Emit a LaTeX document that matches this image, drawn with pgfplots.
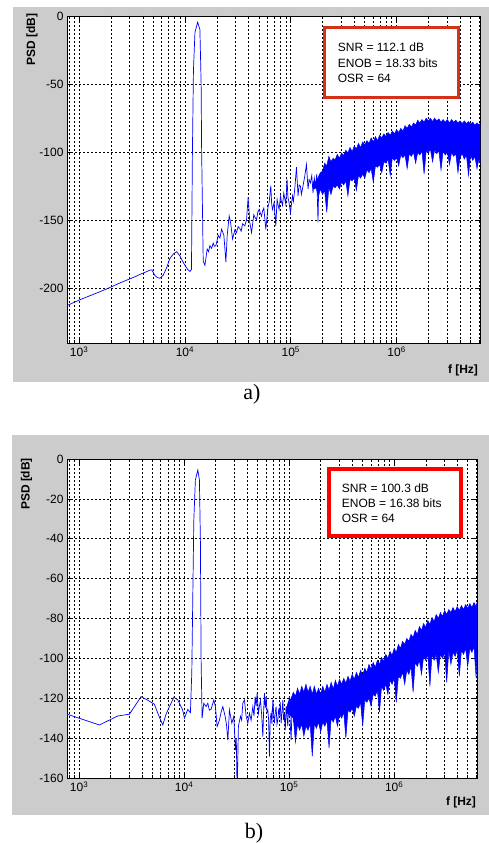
\documentclass[border=0pt]{standalone}
\usepackage{pgfplots}
\pgfplotsset{compat=1.18}
\usepackage{fontspec}
\setmainfont{Liberation Sans}
\newfontfamily\seriffont{Liberation Serif}
\definecolor{figgrey}{RGB}{204,204,204}
\definecolor{boxa}{RGB}{214,48,24}
\definecolor{boxb}{RGB}{255,0,0}
\begin{document}
\begin{tikzpicture}
\path[use as bounding box, fill=white] (0pt,0pt) rectangle (489pt,843pt);
\fill[figgrey] (13pt,461pt) rectangle (489pt,836pt);
\fill[figgrey] (12pt,28pt) rectangle (489pt,408pt);

% ---- a) ----
\begin{axis}[scale only axis, anchor=south west, at={(67pt,500pt)}, width=413pt, height=327pt,
  xmode=log, xmin=768, xmax=6.144e6, ymin=-240, ymax=0,
  xtick={1e3,1e4,1e5,1e6},
  xticklabels={10\textsuperscript{3},10\textsuperscript{4},10\textsuperscript{5},10\textsuperscript{6}},
  minor xtick={800,900,2000,3000,4000,5000,6000,7000,8000,9000,2e4,3e4,4e4,5e4,6e4,7e4,8e4,9e4,2e5,3e5,4e5,5e5,6e5,7e5,8e5,9e5,2e6,3e6,4e6,5e6,6e6},
  ytick={-200,-150,-100,-50,0}, yticklabels={-200,-150,-100,-50,0},
  xmajorgrids, xminorgrids, ymajorgrids,
  major grid style={black, line width=0.6pt, dash pattern=on 2pt off 2pt},
  minor grid style={black, line width=0.6pt, dash pattern=on 2pt off 2pt},
  tick align=inside, major tick length=5pt, minor tick length=3pt,
  every tick/.style={black, line width=0.6pt},
  axis line style={black, line width=0.8pt},
  axis background/.style={fill=white},
  tick label style={font=\fontsize{12}{14}\selectfont}]
\addplot[blue, line width=0.7pt] coordinates {
(768,-212.5) (850,-211) (1000,-208.5) (1200,-206) (1500,-203) (1800,-200.5) (2050,-198.5)
(2500,-195.5) (3000,-193) (3230,-192) (3800,-189.5) (4380,-187.5) (4700,-186.5) (4880,-186.5)
(5200,-190.5) (5500,-192) (5800,-192.5) (6200,-190.5) (6700,-185) (7200,-178) (7800,-174.5)
(8350,-173) (8950,-176) (9500,-180) (9990,-183) (10600,-186) (11150,-187.5) (11520,-186)
(11770,-98) (12030,-40) (12430,-12) (13180,-4.5) (13850,-10) (14220,-50) (14370,-98)
(14880,-180) (15440,-183) (16230,-171) (16700,-173) (17210,-168.6) (17860,-170.5) (18490,-166.7)
(19000,-169) (19610,-168.6) (20620,-161) (21400,-163) (22200,-156.4) (23330,-161) (24370,-180.6)
(25070,-161) (26180,-146.7) (26990,-151.5) (28180,-163.7) (29630,-157) (30700,-159) (31830,-154.6)
(33030,-156) (34000,-158) (35030,-152.5) (36810,-154) (38210,-149.5) (39560,-133) (41050,-151.8)
(42600,-159) (44760,-145.8) (46000,-148) (47470,-149.5) (48800,-144) (50220,-142) (52910,-147)
(54200,-143) (55640,-141) (58110,-156.5) (59770,-147) (61000,-140) (62420,-137) (64770,-124.7)
(66000,-138) (67210,-142) (69580,-137) (72210,-154) (74280,-134.6) (76000,-139) (77570,-142)
(79960,-132.4) (81600,-136) (83510,-139) (85910,-130) (87700,-134) (89710,-138) (92280,-120)
(94000,-133) (96380,-137) (99360,-144.4) (1.0375e5,-132) (1.06e5,-136) (1.0907e5,-127)
(1.1318e5,-111) (1.1719e5,-132) (1.20e5,-124) (1.2346e5,-125) (1.26e5,-131) (1.2895e5,-127)
(1.3558e5,-117.6) (1.4067e5,-109) (1.4564e5,-127) (1.49e5,-120) (1.5341e5,-122.6) (1.58e5,-117)
(1.6234e5,-130) (1.67e5,-119) (1.7215e5,-125) (1.76e5,-116) (1.8092e5,-151.5) (1.84e5,-121)
(1.8775e5,-125) (1.95e5,-118)
};
\addplot[blue, fill=blue, line width=0.5pt] coordinates {
(1.600e5,-124) (1.660e5,-121) (1.738e5,-122) (1.820e5,-118) (1.905e5,-115) (1.995e5,-114)
(2.089e5,-108) (2.188e5,-110) (2.291e5,-103) (2.399e5,-107) (2.512e5,-104.5) (2.630e5,-105.5)
(2.754e5,-101.5) (2.884e5,-104.5) (3.020e5,-100.5) (3.162e5,-102.5) (3.311e5,-98.5) (3.467e5,-100.5)
(3.631e5,-96.5) (3.802e5,-99.5) (3.981e5,-95.5) (4.169e5,-97.5) (4.365e5,-93.5) (4.571e5,-96.5)
(4.786e5,-92.5) (5.012e5,-94.5) (5.248e5,-91.5) (5.495e5,-93.5) (5.754e5,-89.5) (6.026e5,-92.5)
(6.310e5,-88.5) (6.607e5,-91.5) (6.918e5,-87.5) (7.244e5,-89.5) (7.586e5,-86.5) (7.943e5,-88.5)
(8.318e5,-85.5) (8.710e5,-87.5) (9.120e5,-84.5) (9.550e5,-86.5) (1e6,-83.5) (1.047e6,-85.5)
(1.096e6,-82.5) (1.148e6,-84.5) (1.202e6,-80.5) (1.259e6,-82.5) (1.318e6,-79.5) (1.380e6,-81.5)
(1.445e6,-78.5) (1.514e6,-80) (1.585e6,-76.5) (1.660e6,-78.5) (1.738e6,-76) (1.820e6,-78)
(1.905e6,-75) (1.995e6,-77) (2.089e6,-75) (2.188e6,-77.5) (2.291e6,-75) (2.399e6,-77)
(2.512e6,-75.5) (2.630e6,-78) (2.754e6,-76) (2.884e6,-78) (3.020e6,-76) (3.162e6,-78.5)
(3.311e6,-76) (3.467e6,-78) (3.631e6,-76.5) (3.802e6,-78.5) (3.981e6,-77) (4.169e6,-79)
(4.365e6,-77) (4.571e6,-79) (4.786e6,-77.5) (5.012e6,-79.5) (5.248e6,-78) (5.495e6,-80)
(5.754e6,-78.5) (6.026e6,-80) (6.144e6,-79)
(6.144e6,-108) (6.026e6,-104) (5.754e6,-112) (5.495e6,-103) (5.248e6,-106) (5.012e6,-102)
(4.786e6,-117) (4.571e6,-102) (4.365e6,-105) (4.169e6,-101) (3.981e6,-104) (3.802e6,-115)
(3.631e6,-101) (3.467e6,-103) (3.311e6,-100) (3.162e6,-109) (3.020e6,-100) (2.884e6,-102)
(2.754e6,-99) (2.630e6,-113) (2.512e6,-99) (2.399e6,-101) (2.291e6,-98) (2.188e6,-107)
(2.089e6,-98) (1.995e6,-100) (1.905e6,-99) (1.820e6,-116) (1.738e6,-99) (1.660e6,-102)
(1.585e6,-100) (1.514e6,-108) (1.445e6,-100) (1.380e6,-103) (1.318e6,-101) (1.259e6,-112)
(1.202e6,-102) (1.148e6,-104) (1.096e6,-102) (1.047e6,-110) (1e6,-104) (9.550e5,-106)
(9.120e5,-104) (8.710e5,-117) (8.318e5,-105) (7.943e5,-108) (7.586e5,-107) (7.244e5,-115)
(6.918e5,-109) (6.607e5,-111) (6.310e5,-110) (6.026e5,-122) (5.754e5,-112) (5.495e5,-115)
(5.248e5,-113) (5.012e5,-119) (4.786e5,-116) (4.571e5,-119) (4.365e5,-117) (4.169e5,-128)
(3.981e5,-119) (3.802e5,-121) (3.631e5,-120) (3.467e5,-132) (3.311e5,-121) (3.162e5,-124)
(3.020e5,-122) (2.884e5,-127) (2.754e5,-124) (2.630e5,-126) (2.512e5,-125) (2.399e5,-131)
(2.291e5,-126) (2.188e5,-144) (2.089e5,-128) (1.995e5,-131) (1.905e5,-127) (1.820e5,-133)
(1.738e5,-126) (1.660e5,-127) (1.600e5,-125)
};
\end{axis}

% ---- b) ----
\begin{axis}[scale only axis, anchor=south west, at={(67pt,65pt)}, width=410pt, height=319pt,
  xmode=log, xmin=768, xmax=6.144e6, ymin=-160, ymax=0,
  xtick={1e3,1e4,1e5,1e6},
  xticklabels={10\textsuperscript{3},10\textsuperscript{4},10\textsuperscript{5},10\textsuperscript{6}},
  minor xtick={800,900,2000,3000,4000,5000,6000,7000,8000,9000,2e4,3e4,4e4,5e4,6e4,7e4,8e4,9e4,2e5,3e5,4e5,5e5,6e5,7e5,8e5,9e5,2e6,3e6,4e6,5e6,6e6},
  ytick={-160,-140,-120,-100,-80,-60,-40,-20,0},
  yticklabels={-160,-140,-120,-100,-80,-60,-40,-20,0},
  xmajorgrids, xminorgrids, ymajorgrids,
  major grid style={black, line width=0.6pt, dash pattern=on 2pt off 2pt},
  minor grid style={black, line width=0.6pt, dash pattern=on 2pt off 2pt},
  tick align=inside, major tick length=5pt, minor tick length=3pt,
  every tick/.style={black, line width=0.6pt},
  axis line style={black, line width=0.8pt},
  axis background/.style={fill=white},
  tick label style={font=\fontsize{12}{14}\selectfont}]
\addplot[blue, line width=0.7pt] coordinates {
(768,-128) (1561,-133.4) (2336,-128.9) (3013,-128) (3895,-119.2) (4510,-121) (5210,-123)
(5820,-129.5) (6270,-133.4) (6730,-128) (7980,-119.5) (8710,-120.8) (9700,-126) (10070,-130)
(10850,-125.6) (11480,-127.3) (11840,-107) (12100,-69) (12370,-31) (12810,-10.5) (13510,-5.5)
(13990,-10.5) (14300,-41.5) (14520,-101) (14840,-130) (15400,-122.5) (16200,-124.2)
(16820,-122.5) (17400,-126) (18080,-125.5) (19180,-120.9) (19870,-124.2) (20620,-134.2)
(21690,-131) (22500,-127) (23370,-124.2) (24570,-129) (25300,-133) (26080,-141) (27010,-125.9)
(28470,-132.5) (29740,-129) (30300,-138) (30810,-146) (31400,-140) (31980,-168) (32900,-134)
(34380,-129) (35300,-131) (36230,-122.5) (37530,-120.9) (38950,-129) (40430,-132.5)
(41870,-127.5) (43460,-131) (45110,-124.2) (46300,-129) (47450,-119.2) (48500,-124)
(49580,-117.5) (51020,-127.5) (52100,-124) (53310,-120.9) (54700,-128) (56180,-139.3)
(57200,-126) (58200,-117.5) (59300,-125) (60390,-119.2) (61500,-127) (62680,-125.9)
(63800,-131) (64930,-149.3) (66100,-130) (67390,-127.5) (68600,-133) (69950,-120.9)
(71200,-128) (72450,-132.5) (73800,-127) (75200,-124.2) (76600,-133) (78060,-131)
(79400,-126) (80830,-128) (82300,-122) (83900,-132.5) (85500,-127) (87100,-120.9)
(88600,-131) (90210,-128) (91900,-136) (93630,-124) (95400,-129) (97180,-134) (98900,-122)
(1.0066e5,-119) (1.025e5,-133) (1.0447e5,-141) (1.065e5,-125) (1.0845e5,-126) (1.105e5,-132)
(1.1233e5,-121) (1.145e5,-128) (1.166e5,-130) (1.19e5,-118)
};
\addplot[blue, fill=blue, line width=0.5pt] coordinates {
(9.30e4,-126) (9.80e4,-122) (1.047e5,-120) (1.096e5,-117) (1.148e5,-119) (1.202e5,-115)
(1.259e5,-118) (1.318e5,-114) (1.380e5,-117) (1.445e5,-113) (1.514e5,-117) (1.585e5,-114)
(1.660e5,-118) (1.738e5,-114) (1.820e5,-118) (1.905e5,-115) (1.995e5,-118) (2.089e5,-114)
(2.188e5,-117) (2.291e5,-113) (2.399e5,-116) (2.512e5,-112) (2.630e5,-115.5) (2.754e5,-111)
(2.884e5,-114) (3.020e5,-110.5) (3.162e5,-113) (3.311e5,-110) (3.467e5,-112.5) (3.631e5,-109)
(3.802e5,-111.5) (3.981e5,-108) (4.169e5,-110.5) (4.365e5,-107) (4.571e5,-109.5) (4.786e5,-106)
(5.012e5,-108.5) (5.248e5,-105) (5.495e5,-107) (5.754e5,-103) (6.026e5,-105.5) (6.310e5,-102)
(6.607e5,-104.5) (6.918e5,-101) (7.244e5,-103) (7.586e5,-99.5) (7.943e5,-101.5) (8.318e5,-98)
(8.710e5,-100) (9.120e5,-96.5) (9.550e5,-98.5) (1e6,-95) (1.047e6,-97) (1.096e6,-93)
(1.148e6,-95) (1.202e6,-91.5) (1.259e6,-93) (1.318e6,-90) (1.380e6,-91.5) (1.445e6,-88)
(1.514e6,-89.5) (1.585e6,-86) (1.660e6,-88) (1.738e6,-84) (1.820e6,-86) (1.905e6,-82.5)
(1.995e6,-84.5) (2.089e6,-81) (2.188e6,-83) (2.291e6,-79.5) (2.399e6,-81.5) (2.512e6,-78)
(2.630e6,-80) (2.754e6,-77) (2.884e6,-79) (3.020e6,-76) (3.162e6,-78) (3.311e6,-75.5)
(3.467e6,-77) (3.631e6,-74.5) (3.802e6,-76.5) (3.981e6,-74) (4.169e6,-76) (4.365e6,-73.5)
(4.571e6,-75.5) (4.786e6,-73) (5.012e6,-75) (5.248e6,-72.5) (5.495e6,-74.5) (5.754e6,-72)
(6.026e6,-74) (6.144e6,-72)
(6.144e6,-96) (6.026e6,-110) (5.754e6,-94) (5.495e6,-97) (5.248e6,-95) (5.012e6,-104)
(4.786e6,-95) (4.571e6,-98) (4.365e6,-96) (4.169e6,-109) (3.981e6,-96) (3.802e6,-99)
(3.631e6,-97) (3.467e6,-103) (3.311e6,-96) (3.162e6,-112) (3.020e6,-97) (2.884e6,-100)
(2.754e6,-98) (2.630e6,-107) (2.512e6,-98) (2.399e6,-101) (2.291e6,-98) (2.188e6,-114)
(2.089e6,-98) (1.995e6,-101) (1.905e6,-99) (1.820e6,-108) (1.738e6,-101) (1.660e6,-104)
(1.585e6,-102) (1.514e6,-117) (1.445e6,-104) (1.380e6,-108) (1.318e6,-106) (1.259e6,-113)
(1.202e6,-107) (1.148e6,-110) (1.096e6,-109) (1.047e6,-122) (1e6,-110) (9.550e5,-113)
(9.120e5,-111) (8.710e5,-118) (8.318e5,-113) (7.943e5,-116) (7.586e5,-114) (7.244e5,-127)
(6.918e5,-116) (6.607e5,-119) (6.310e5,-118) (6.026e5,-124) (5.754e5,-120) (5.495e5,-122)
(5.248e5,-121) (5.012e5,-134) (4.786e5,-122) (4.571e5,-125) (4.365e5,-124) (4.169e5,-129)
(3.981e5,-125) (3.802e5,-127) (3.631e5,-126) (3.467e5,-140) (3.311e5,-127) (3.162e5,-130)
(3.020e5,-128) (2.884e5,-134) (2.754e5,-129) (2.630e5,-132) (2.512e5,-130) (2.399e5,-145)
(2.291e5,-131) (2.188e5,-134) (2.089e5,-132) (1.995e5,-137) (1.905e5,-132) (1.820e5,-135)
(1.738e5,-133) (1.660e5,-149) (1.585e5,-133) (1.514e5,-136) (1.445e5,-134) (1.380e5,-139)
(1.318e5,-133) (1.259e5,-136) (1.202e5,-133) (1.148e5,-142) (1.096e5,-130) (1.047e5,-129)
(9.80e4,-128) (9.30e4,-127)
};
\end{axis}

% annotations
\draw[boxa, line width=3.3pt, fill=white] (324.65pt,815.35pt) rectangle (458.35pt,745.65pt);
\begin{scope}[every node/.style={anchor=base west, inner sep=0pt, font=\fontsize{12}{14}\selectfont}]
\node at (337.7pt,791pt) {SNR = 112.1 dB};
\node at (337.7pt,775.7pt) {ENOB = 18.33 bits};
\node at (337.7pt,760.4pt) {OSR = 64};
\end{scope}
\draw[boxb, line width=4pt, fill=white] (329pt,374.3pt) rectangle (461pt,307pt);
\begin{scope}[every node/.style={anchor=base west, inner sep=0pt, font=\fontsize{12}{14}\selectfont}]
\node at (341.7pt,350.7pt) {SNR = 100.3 dB};
\node at (341.7pt,335.7pt) {ENOB = 16.38 bits};
\node at (341.7pt,320.7pt) {OSR = 64};
\end{scope}

\node[rotate=90, font=\fontsize{12}{14}\selectfont\bfseries] at (32pt,803pt) {PSD [dB]};
\node[rotate=90, font=\fontsize{12}{14}\selectfont\bfseries] at (26.5pt,359pt) {PSD [dB]};
\node[font=\fontsize{12}{14}\selectfont\bfseries] at (463pt,473pt) {f [Hz]};
\node[font=\fontsize{12}{14}\selectfont\bfseries] at (461pt,41pt) {f [Hz]};
\node[anchor=base, inner sep=0pt, font=\seriffont\fontsize{22}{24}\selectfont] at (252pt,443pt) {a)};
\node[anchor=base, inner sep=0pt, font=\seriffont\fontsize{22}{24}\selectfont] at (254pt,5pt) {b)};
\end{tikzpicture}
\end{document}
